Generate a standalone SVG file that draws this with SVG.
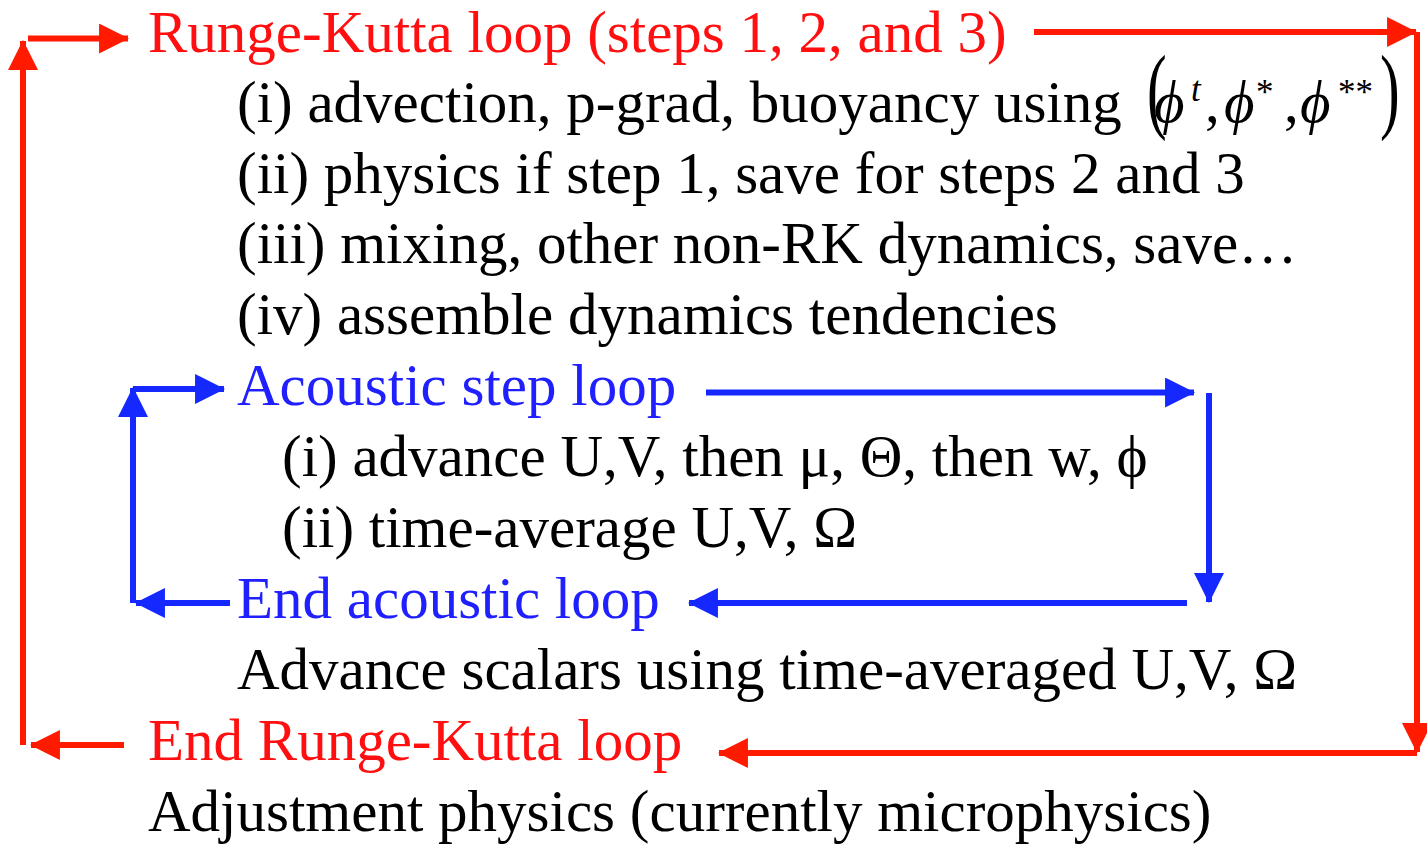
<svg xmlns="http://www.w3.org/2000/svg" width="1427" height="845" viewBox="0 0 1427 845">
<defs>
<style>
text{font-family:"Liberation Serif","Times New Roman",serif;font-size:59px;fill:#000}
.red{fill:#ff0f0f}
.blue{fill:#1f1fff}
.it{font-style:italic}
.sup{font-size:35px}
.rl{stroke:#ff1a00;stroke-width:6;fill:none}
.bl{stroke:#1428ff;stroke-width:6;fill:none}
</style>
<marker id="ah-red" markerUnits="userSpaceOnUse" markerWidth="30" markerHeight="30" viewBox="0 0 28 28" refX="27" refY="14" orient="auto">
<path d="M0,0 L28,14 L0,28 z" fill="#ff1a00"/>
</marker>
<marker id="ah-blue" markerUnits="userSpaceOnUse" markerWidth="30" markerHeight="30" viewBox="0 0 28 28" refX="27" refY="14" orient="auto">
<path d="M0,0 L28,14 L0,28 z" fill="#1428ff"/>
</marker>
</defs>
<rect width="1427" height="845" fill="#fff"/>

<g id="connectors">
<path class="rl" d="M23,745 L23,41" marker-end="url(#ah-red)"/>
<path class="rl" d="M28,38.5 L128,38.5" marker-end="url(#ah-red)"/>
<path class="rl" d="M1034,32 L1416,32" marker-end="url(#ah-red)"/>
<path class="rl" d="M1417,32 L1417,752" marker-end="url(#ah-red)"/>
<path class="rl" d="M1417,753 L719,753" marker-end="url(#ah-red)"/>
<path class="rl" d="M124,745 L31,745" marker-end="url(#ah-red)"/>
<path class="bl" d="M133,603 L133,388" marker-end="url(#ah-blue)"/>
<path class="bl" d="M133,389 L224,389" marker-end="url(#ah-blue)"/>
<path class="bl" d="M706,392.5 L1194,392.5" marker-end="url(#ah-blue)"/>
<path class="bl" d="M1209,393 L1209,602" marker-end="url(#ah-blue)"/>
<path class="bl" d="M1187,603 L689,603" marker-end="url(#ah-blue)"/>
<path class="bl" d="M230,603 L136,603" marker-end="url(#ah-blue)"/>
</g>

<g id="rk-loop"><text class="red" x="148" y="52">Runge-Kutta loop (steps 1, 2, and 3)</text></g>
<g id="rk-step-i">
<text x="237" y="122">(i) advection, p-grad, buoyancy using</text>
<text transform="translate(1147,121) scale(1,1.6)">(</text>
<text class="it" x="1154" y="122">ϕ</text>
<text class="it sup" x="1191" y="101">t</text>
<text x="1205" y="122">,</text>
<text class="it" x="1224" y="122">ϕ</text>
<text class="sup" x="1256" y="104">*</text>
<text x="1284" y="122">,</text>
<text class="it" x="1300" y="122">ϕ</text>
<text class="sup" x="1338" y="104">**</text>
<text transform="translate(1380,121) scale(1,1.6)">)</text>
</g>
<g id="rk-step-ii"><text x="237" y="193">(ii) physics if step 1, save for steps 2 and 3</text></g>
<g id="rk-step-iii"><text x="237" y="263">(iii) mixing, other non-RK dynamics, save…</text></g>
<g id="rk-step-iv"><text x="237" y="334">(iv) assemble dynamics tendencies</text></g>
<g id="acoustic-loop"><text class="blue" x="237" y="405">Acoustic step loop</text></g>
<g id="ac-step-i"><text x="282" y="476">(i) advance U,V, then μ, Θ, then w, ϕ</text></g>
<g id="ac-step-ii"><text x="282" y="547">(ii) time-average U,V, Ω</text></g>
<g id="end-acoustic"><text class="blue" x="237" y="618">End acoustic loop</text></g>
<g id="advance-scalars"><text x="237" y="689">Advance scalars using time-averaged U,V, Ω</text></g>
<g id="end-rk"><text class="red" x="148" y="760">End Runge-Kutta loop</text></g>
<g id="adjustment"><text x="148" y="831">Adjustment physics (currently microphysics)</text></g>
</svg>
